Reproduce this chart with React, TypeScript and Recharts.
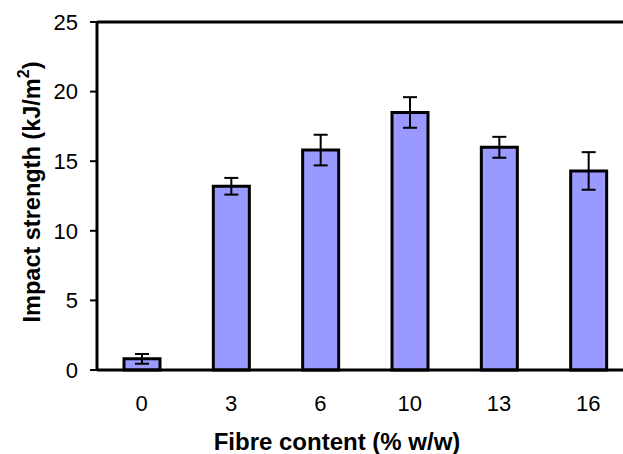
import {
  BarChart, Bar, XAxis, YAxis, ErrorBar, ReferenceLine, Label,
} from 'recharts'

const fibre = ['0', '3', '6', '10', '13', '16']
const strength = [0.8, 13.2, 15.8, 18.5, 16.0, 14.3]
const stdErr = [0.35, 0.6, 1.1, 1.1, 0.75, 1.35]
const yTicks = [0, 5, 10, 15, 20, 25]

const data = fibre.map((f, i) => ({ fibre: f, strength: strength[i], err: stdErr[i] }))

const font = '"Liberation Sans", Arial, sans-serif'

// rotated y-axis title with the superscript 2
const YTitle = ({ viewBox }: any) => {
  const cx = 32
  const cy = viewBox.y + viewBox.height / 2 - 4
  return (
    <text
      x={cx} y={cy}
      transform={`rotate(-90 ${cx} ${cy})`}
      textAnchor="middle" dominantBaseline="central"
      style={{ fontFamily: font, fontSize: 23.5, fontWeight: 700, fill: '#000' }}
    >
      <tspan>Impact strength (kJ/m</tspan>
      <tspan dy={-9} fontSize={16}>2</tspan>
      <tspan dy={9}>)</tspan>
    </text>
  )
}

export default function App() {
  return (
    <div style={{
      position: 'fixed', left: 0, top: 0, width: 623, height: 454,
      overflow: 'hidden', background: '#fff',
    }}>
      <BarChart
        width={650}
        height={454}
        data={data}
        margin={{ top: 22, right: 17, left: 0, bottom: 0 }}
        barSize={36}
      >
        <XAxis
          dataKey="fibre"
          height={84}
          axisLine={{ stroke: '#000', strokeWidth: 3 }}
          tickLine={false}
          tickSize={0}
          tickMargin={25}
          tick={{ fontSize: 22, fill: '#000', fontFamily: font }}
        >
          <Label
            value="Fibre content (% w/w)"
            position="insideBottom"
            offset={4}
            dx={-28}
            style={{ fontFamily: font, fontSize: 24, fontWeight: 700, fill: '#000' }}
          />
        </XAxis>
        <YAxis
          width={97}
          domain={[0, 25]}
          ticks={yTicks}
          interval={0}
          axisLine={{ stroke: '#000', strokeWidth: 3 }}
          tickLine={{ stroke: '#000', strokeWidth: 2 }}
          tickSize={7}
          tickMargin={12}
          tick={{ fontSize: 22, fill: '#000', fontFamily: font }}
        >
          <Label content={<YTitle />} />
        </YAxis>
        <ReferenceLine y={25} stroke="#000" strokeWidth={3} />
        <Bar
          dataKey="strength"
          fill="#9999ff"
          stroke="#000"
          strokeWidth={3}
          isAnimationActive={false}
        >
          <ErrorBar dataKey="err" width={7} stroke="#000" strokeWidth={2} />
        </Bar>
      </BarChart>
    </div>
  )
}
